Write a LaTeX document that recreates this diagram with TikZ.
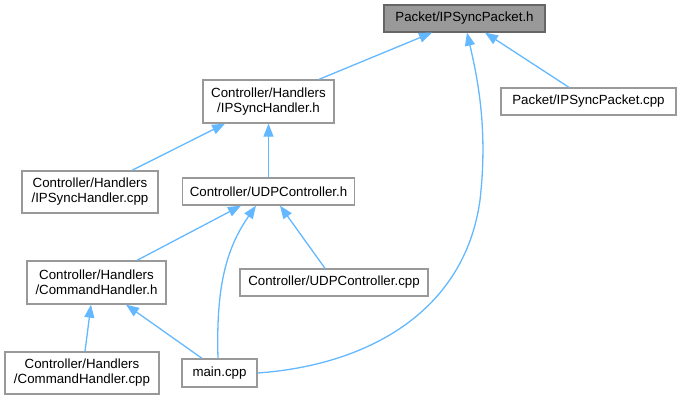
\documentclass[tikz,border=0pt]{standalone}
\usepackage{fontspec}
\setmainfont{Liberation Sans}
\usetikzlibrary{arrows.meta}
\definecolor{Edge}{HTML}{63B8FF}
\definecolor{Frame}{HTML}{999999}
\definecolor{RootFrame}{HTML}{666666}
\definecolor{RootFill}{HTML}{999999}
\tikzset{
  edge/.style={-{Triangle[length=13pt,width=10pt]},line width=1.3pt,draw=Edge},
  filebox/.style={draw=Frame,fill=white,line width=1.3pt,inner sep=0pt,align=center,
    font=\fontsize{13.3}{15}\selectfont},
  rootbox/.style={filebox,draw=RootFrame,fill=RootFill}
}
\begin{document}
\begin{tikzpicture}[x=1pt,y=-1pt]
  \useasboundingbox (0,0) rectangle (681,400);
  % nodes
  \node[rootbox,minimum width=161pt,minimum height=27pt] (pkth) at (464.5,18.5) {Packet/IPSyncPacket.h};
  \node[filebox,minimum width=131pt,minimum height=43pt] (hsynch) at (268.5,101.5) {Controller/Handlers\\/IPSyncHandler.h};
  \node[filebox,minimum width=175pt,minimum height=27pt] (pktcpp) at (588.5,101.5) {Packet/IPSyncPacket.cpp};
  \node[filebox,minimum width=136pt,minimum height=42pt] (hsynccpp) at (90,192) {Controller/Handlers\\/IPSyncHandler.cpp};
  \node[filebox,minimum width=172pt,minimum height=27pt] (udph) at (268.5,191.5) {Controller/UDPController.h};
  \node[filebox,minimum width=139pt,minimum height=43pt] (cmdh) at (96.5,282.5) {Controller/Handlers\\/CommandHandler.h};
  \node[filebox,minimum width=188pt,minimum height=27pt] (udpcpp) at (334,282.5) {Controller/UDPController.cpp};
  \node[filebox,minimum width=154pt,minimum height=42pt] (cmdcpp) at (82,373) {Controller/Handlers\\/CommandHandler.cpp};
  \node[filebox,minimum width=75pt,minimum height=28pt] (main) at (219.5,373) {main.cpp};
  % includes
  \draw[edge] ([xshift=50.5pt]hsynch.north) -- ([xshift=-32.5pt]pkth.south);
  \draw[edge] ([xshift=-19.5pt]pktcpp.north) -- ([xshift=20.5pt]pkth.south);
  \draw[edge] (main.east) .. controls (370,365) and (465,310) .. (480,200)
    .. controls (488,130) and (478,80) .. ([xshift=2.5pt]pkth.south);
  \draw[edge] ([xshift=42pt]hsynccpp.north) -- ([xshift=-43.5pt]hsynch.south);
  \draw[edge] (udph.north) -- (hsynch.south);
  \draw[edge] ([xshift=40.5pt]cmdh.north) -- ([xshift=-27.5pt]udph.south);
  \draw[edge] ([xshift=-1.5pt]main.north) .. controls (216,290) and (225,250) .. ([xshift=-12.5pt]udph.south);
  \draw[edge] ([xshift=-9pt]udpcpp.north) -- ([xshift=11.5pt]udph.south);
  \draw[edge] ([xshift=3pt]cmdcpp.north) -- ([xshift=-5.5pt]cmdh.south);
  \draw[edge] ([xshift=-17.5pt]main.north) -- ([xshift=29.5pt]cmdh.south);
\end{tikzpicture}
\end{document}
